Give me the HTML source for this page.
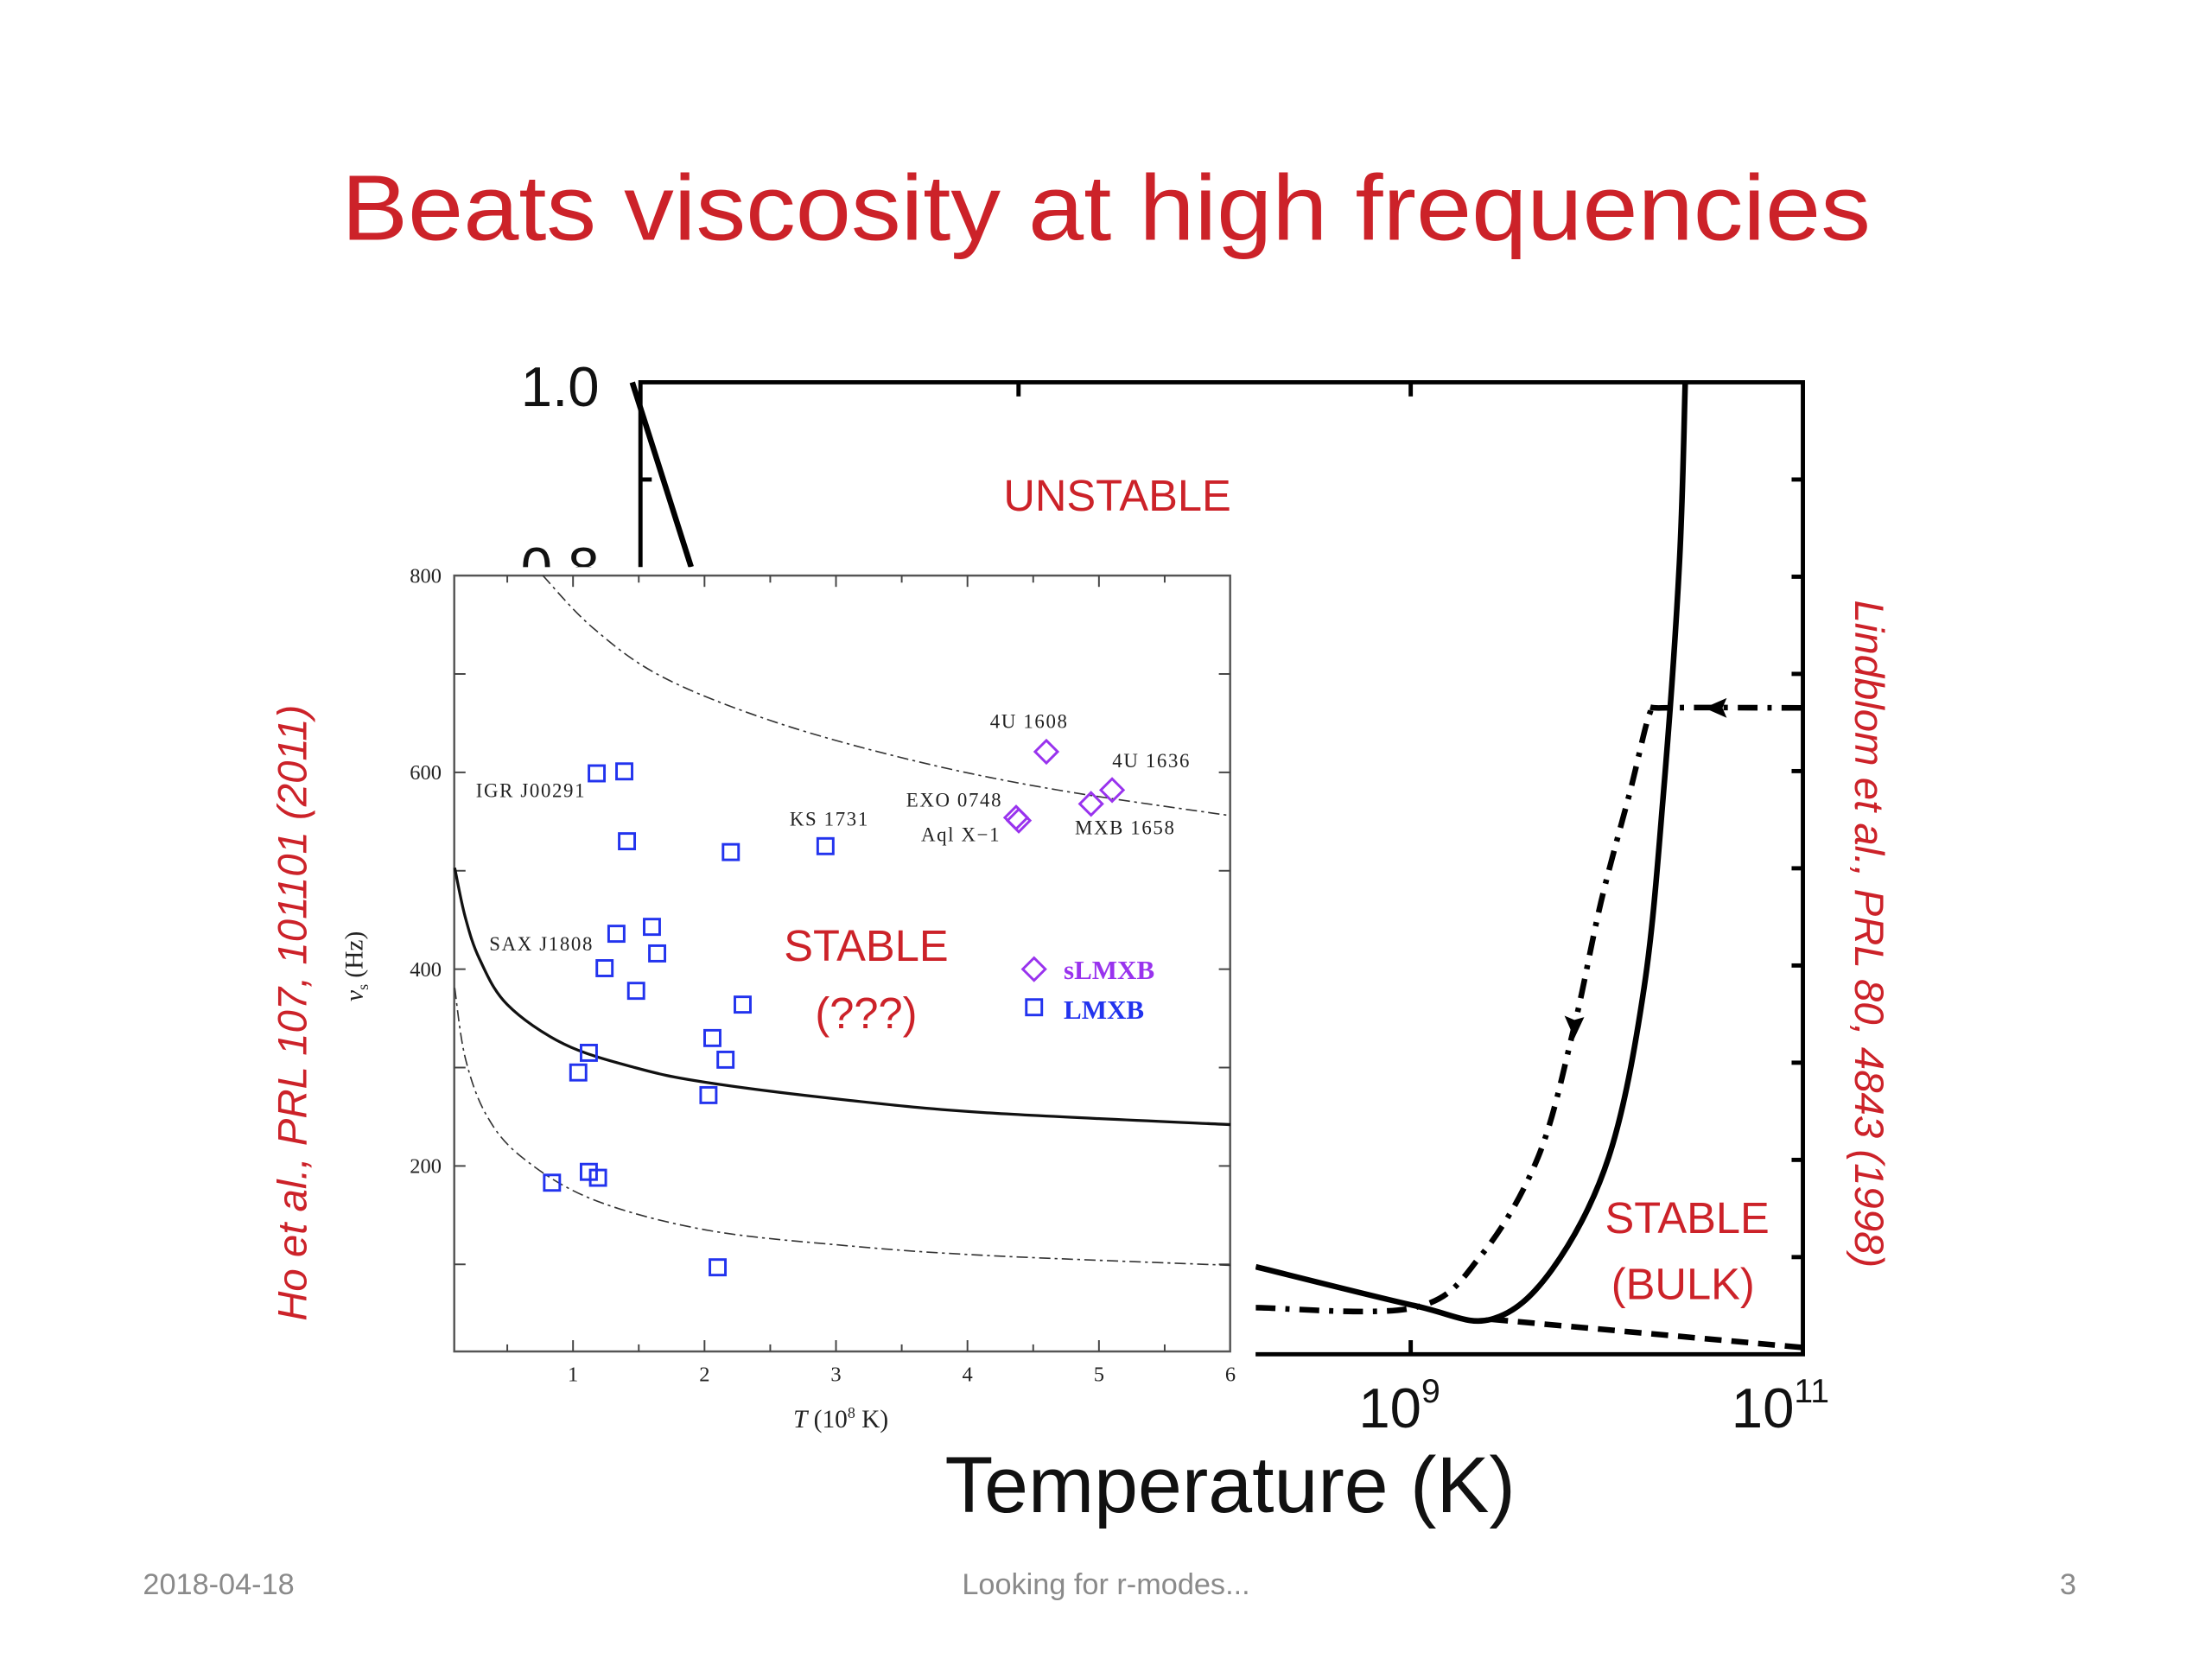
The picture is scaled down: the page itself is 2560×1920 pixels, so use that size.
<!DOCTYPE html>
<html><head><meta charset="utf-8"><style>
html,body{margin:0;padding:0;background:#fff;}
svg{display:block;}
</style></head><body>
<svg id="s" width="2560" height="1920" viewBox="0 0 1568 1176" xmlns="http://www.w3.org/2000/svg">
<text x="784" y="170" text-anchor="middle" font-family="Liberation Sans, sans-serif" font-size="66" fill="#cc2229" textLength="1084" lengthAdjust="spacingAndGlyphs">Beats viscosity at high frequencies</text>
<g id="big"></g>
<rect x="230" y="402" width="660" height="623" fill="#fff"/>
<g id="inset"></g>
<text x="792" y="362" text-anchor="middle" font-family="Liberation Sans, sans-serif" font-size="31" fill="#cc2229">UNSTABLE</text>
<text x="1196" y="874" text-anchor="middle" font-family="Liberation Sans, sans-serif" font-size="31" fill="#cc2229">STABLE</text>
<text x="1193" y="921" text-anchor="middle" font-family="Liberation Sans, sans-serif" font-size="31" fill="#cc2229">(BULK)</text>
<text x="614" y="681" text-anchor="middle" font-family="Liberation Sans, sans-serif" font-size="31" fill="#cc2229">STABLE</text>
<text x="614" y="729" text-anchor="middle" font-family="Liberation Sans, sans-serif" font-size="31" fill="#cc2229">(???)</text>
<text x="397" y="288" text-anchor="middle" font-family="Liberation Sans, sans-serif" font-size="40" fill="#111">1.0</text>
<text x="992" y="1012" text-anchor="middle" font-family="Liberation Sans, sans-serif" font-size="40" fill="#111">10<tspan dy="-18" font-size="24">9</tspan></text>
<text x="1262" y="1012" text-anchor="middle" font-family="Liberation Sans, sans-serif" font-size="40" fill="#111">10<tspan dy="-18" font-size="24">11</tspan></text>
<text x="872" y="1072" text-anchor="middle" font-family="Liberation Sans, sans-serif" font-size="56" fill="#111">Temperature (K)</text>
<text transform="translate(217,718) rotate(-90)" text-anchor="middle" font-family="Liberation Sans, sans-serif" font-style="italic" font-size="29" fill="#cc2229">Ho et al., PRL 107, 101101 (2011)</text>
<text transform="translate(1315,662) rotate(90)" text-anchor="middle" font-family="Liberation Sans, sans-serif" font-style="italic" font-size="29" fill="#cc2229">Lindblom et al., PRL 80, 4843 (1998)</text>
<text x="155" y="1130" text-anchor="middle" font-family="Liberation Sans, sans-serif" font-size="21" fill="#8a8a8a">2018-04-18</text>
<text x="784" y="1130" text-anchor="middle" font-family="Liberation Sans, sans-serif" font-size="21" fill="#8a8a8a">Looking for r-modes...</text>
<text x="1466" y="1130" text-anchor="middle" font-family="Liberation Sans, sans-serif" font-size="21" fill="#8a8a8a">3</text>
</svg>
<script>
// ---- main (big) chart data: [log10 T, value] ----
const bigSolidLeft = [[5.03,1.0],[5.33,0.81]];
const bigSolidRight = [[8.21,0.09],[9.02,0.05],[9.41,0.036],[9.72,0.087],[10.01,0.203],[10.19,0.377],[10.29,0.58],[10.37,0.813],[10.40,1.0]];
const bigDashDot = [[8.21,0.048],[9.02,0.048],[9.36,0.102],[9.65,0.203],[9.83,0.334],[9.97,0.465],[10.12,0.58],[10.22,0.66],[10.28,0.665],[11,0.665]];
const bigDashed = [[9.41,0.036],[11,0.007]];
const bigYTicks = [0.1,0.2,0.3,0.4,0.5,0.6,0.7,0.8,0.9];
const bigXTicks = [7,9];
// ---- inset data ----
const lmxbT = [1.18,1.39,1.41,2.20,2.92,1.33,1.60,1.64,1.24,1.48,2.29,2.06,2.16,1.12,1.04,2.03,0.84,1.12,1.19,2.10];
const lmxbNu = [599,601,530,519,525,436,443,416,401,378,364,330,308,315,295,272,183,194,188,97];
const slmxbT = [4.60,5.10,4.94,4.39,4.37];
const slmxbNu = [621,582,568,551,554];
const solidT = [0.10,0.18,0.29,0.50,0.93,1.47,2.01,3.08,4.15,6.0];
const solidNu = [503,453,410,364,324,300,285,267,254,242];
const upperT = [0.77,1.15,1.68,2.54,3.62,4.69,6.0];
const upperNu = [800,747,697,651,611,582,556];
const lowerT = [0.10,0.18,0.34,0.61,1.15,2.01,3.08,4.15,6.0];
const lowerNu = [381,310,252,209,166,135,119,109,99];
const insetXTicks = [1,2,3,4,5,6];
const insetYTicks = [200,400,600,800];
const srcLabels = ["4U 1608","4U 1636","EXO 0748","Aql X\u22121","MXB 1658","KS 1731","IGR J00291","SAX J1808"];
const srcLabelT = [4.47,5.40,3.90,3.95,5.20,2.95,0.68,0.76];
const srcLabelNu = [645,605,565,530,537,546,575,419];

const NS="http://www.w3.org/2000/svg";
function mk(tag,attrs,parent){const e=document.createElementNS(NS,tag);for(const k in attrs)e.setAttribute(k,attrs[k]);parent.appendChild(e);return e;}
const big=document.getElementById('big'), inset=document.getElementById('inset');
const bx=l=>1000+(l-9)*139, by=v=>271+(1-v)*689;
const ix=t=>313+t*93.2, iy=v=>408+(800-v)*0.6975;
function pathPts(pts,fx,fy){return pts.map((p,i)=>(i?'L':'M')+fx(p[0]).toFixed(1)+' '+fy(p[1]).toFixed(1)).join(' ');}
function smooth(pts,fx,fy){const P=pts.map(p=>[fx(p[0]),fy(p[1])]);let d='M'+P[0][0]+' '+P[0][1];for(let i=0;i<P.length-1;i++){const p0=P[i-1]||P[i],p1=P[i],p2=P[i+1],p3=P[i+2]||p2;d+=` C${p1[0]+(p2[0]-p0[0])/6} ${p1[1]+(p2[1]-p0[1])/6} ${p2[0]-(p3[0]-p1[0])/6} ${p2[1]-(p3[1]-p1[1])/6} ${p2[0]} ${p2[1]}`;}return d;}
let e;
e=mk('path',{d:'M454 402 L454 271 L1278 271 L1278 960 L890 960',fill:'none',stroke:'#000','stroke-width':3},big);


bigYTicks.forEach(v=>{e=mk('line',{x1:1278,x2:1270,y1:by(v),y2:by(v),stroke:'#000','stroke-width':3},big);

});
e=mk('line',{x1:454,x2:462,y1:by(0.9),y2:by(0.9),stroke:'#000','stroke-width':3},big);


bigXTicks.forEach(l=>{e=mk('line',{x1:bx(l),x2:bx(l),y1:271,y2:281,stroke:'#000','stroke-width':3},big);

});
e=mk('line',{x1:bx(9),x2:bx(9),y1:960,y2:950,stroke:'#000','stroke-width':3},big);


e=mk('text',{x:397,y:416,'text-anchor':'middle','font-family':'Liberation Sans, sans-serif','font-size':40,fill:'#111'},big);e.textContent='0.8';


e=mk('path',{d:pathPts(bigSolidLeft,bx,by),fill:'none',stroke:'#000','stroke-width':4},big);


e=mk('path',{d:smooth(bigSolidRight,bx,by),fill:'none',stroke:'#000','stroke-width':4},big);


e=mk('path',{d:smooth(bigDashDot,bx,by),fill:'none',stroke:'#000','stroke-width':4,'stroke-dasharray':'14 7 3 7'},big);


e=mk('path',{d:pathPts(bigDashed,bx,by),fill:'none',stroke:'#000','stroke-width':4,'stroke-dasharray':'12 7'},big);


const ay=by(bigDashDot[bigDashDot.length-1][1]);
e=mk('path',{d:`M1208 ${ay} l16 -7 l-3 7 l3 7 z`,fill:'#000'},big);


e=mk('path',{d:'M1116 736 l-7 -16 l7 3 l7 -2 z',fill:'#000'},big);


e=mk('rect',{x:322,y:408,width:550,height:550,fill:'#fff',stroke:'#555','stroke-width':1.5},inset);


for(let t=0.5;t<=5.51;t+=0.5){const L=(Math.abs(t-Math.round(t))<0.01)?8:5;
[[958,958-L],[408,408+L]].forEach(a=>{e=mk('line',{x1:ix(t),x2:ix(t),y1:a[0],y2:a[1],stroke:'#444','stroke-width':1.2},inset);

});}
for(let v=100;v<=700;v+=100){[[322,330],[872,864]].forEach(a=>{e=mk('line',{x1:a[0],x2:a[1],y1:iy(v),y2:iy(v),stroke:'#444','stroke-width':1.2},inset);

});}
insetXTicks.forEach(t=>{e=mk('text',{x:ix(t),y:979,'text-anchor':'middle','font-family':'Liberation Serif, serif','font-size':15,fill:'#222'},inset);e.textContent=t;

});
insetYTicks.forEach(v=>{e=mk('text',{x:313,y:iy(v)+5,'text-anchor':'end','font-family':'Liberation Serif, serif','font-size':15,fill:'#222'},inset);e.textContent=v;

});
e=mk('text',{x:596,y:1012,'text-anchor':'middle','font-family':'Liberation Serif, serif','font-size':18,fill:'#222'},inset);
e.innerHTML='<tspan font-style="italic">T</tspan>  (10<tspan dy="-7" font-size="11">8</tspan><tspan dy="7"> K)</tspan>';


e=mk('text',{transform:'translate(257,685) rotate(-90)','text-anchor':'middle','font-family':'Liberation Serif, serif','font-size':18,fill:'#222'},inset);
e.innerHTML='<tspan font-style="italic">ν</tspan><tspan font-size="11" dy="4">s</tspan><tspan dy="-4">  (Hz)</tspan>';


const zipP=(a,b)=>a.map((t,i)=>[t,b[i]]);
e=mk('path',{d:smooth(zipP(solidT,solidNu),ix,iy),fill:'none',stroke:'#111','stroke-width':2},inset);


e=mk('path',{d:smooth(zipP(upperT,upperNu),ix,iy),fill:'none',stroke:'#333','stroke-width':1,'stroke-dasharray':'8 3 2 3'},inset);


e=mk('path',{d:smooth(zipP(lowerT,lowerNu),ix,iy),fill:'none',stroke:'#333','stroke-width':1,'stroke-dasharray':'8 3 2 3'},inset);


lmxbT.forEach((t,i)=>{e=mk('rect',{x:ix(t)-5.5,y:iy(lmxbNu[i])-5.5,width:11,height:11,fill:'none',stroke:'#2233ee','stroke-width':1.8},inset);

});
slmxbT.forEach((t,i)=>{const x=ix(t),y=iy(slmxbNu[i]);e=mk('path',{d:`M${x} ${y-8} L${x+8} ${y} L${x} ${y+8} L${x-8} ${y} Z`,fill:'none',stroke:'#9933ee','stroke-width':1.8},inset);

});
srcLabels.forEach((s,i)=>{e=mk('text',{x:ix(srcLabelT[i]),y:iy(srcLabelNu[i]),'text-anchor':'middle','font-family':'Liberation Serif, serif','font-size':14,'letter-spacing':'1',fill:'#222'},inset);e.textContent=s;

});
e=mk('path',{d:'M733 679 L741 687 L733 695 L725 687 Z',fill:'none',stroke:'#9933ee','stroke-width':1.8},inset);


e=mk('text',{x:754,y:694,'font-family':'Liberation Serif, serif','font-size':19,'font-weight':'bold',fill:'#9933ee'},inset);e.textContent='sLMXB';


e=mk('rect',{x:727.5,y:708.5,width:11,height:11,fill:'none',stroke:'#2233ee','stroke-width':1.8},inset);


e=mk('text',{x:754,y:722,'font-family':'Liberation Serif, serif','font-size':19,'font-weight':'bold',fill:'#2233ee'},inset);e.textContent='LMXB';


</script>
</body></html>
